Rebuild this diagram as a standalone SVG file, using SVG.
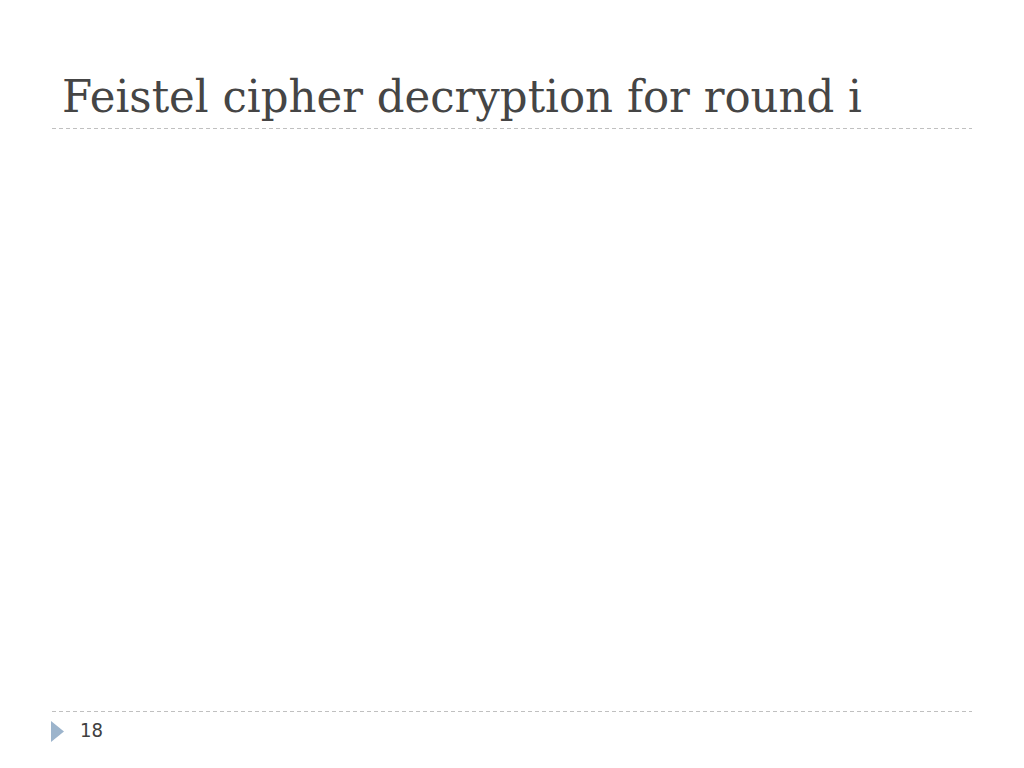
<svg xmlns="http://www.w3.org/2000/svg" width="1024" height="768" viewBox="0 0 1024 768">
<style>
.rule{stroke:#c0c0c0;stroke-width:1;stroke-dasharray:4 3;fill:none}
.title{font-family:"DejaVu Serif","Liberation Serif",serif;font-size:44px;fill:#454545}
.num{font-family:"DejaVu Sans","Liberation Sans",sans-serif;font-size:19px;fill:#404040}
</style>
<rect width="1024" height="768" fill="#ffffff"/>
<g id="title">
<text class="title" x="62" y="112" textLength="800" lengthAdjust="spacingAndGlyphs">Feistel cipher decryption for round i</text>
</g>
<g id="rules">
<line class="rule" x1="52" y1="128.5" x2="972" y2="128.5"/>
<line class="rule" x1="52" y1="711.5" x2="972" y2="711.5"/>
</g>
<g id="footer">
<polygon points="51,721 64,731.5 51,742" fill="#9cb4cc"/>
<text class="num" x="80" y="737" textLength="23" lengthAdjust="spacingAndGlyphs">18</text>
</g>
</svg>
